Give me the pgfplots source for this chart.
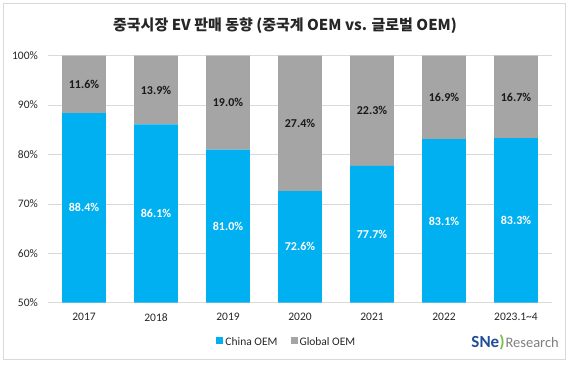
\documentclass[border=0pt]{standalone}
\usepackage{pgfplots}
\pgfplotsset{compat=1.18}
\usepackage{fontspec}
\setmainfont{Carlito}
\newfontfamily\cjk{Noto Sans CJK KR}
\definecolor{cblue}{HTML}{00B0F0}
\definecolor{cgray}{HTML}{A5A5A5}
\definecolor{gridc}{HTML}{D9D9D9}
\definecolor{snblue}{HTML}{1F4E9A}
\definecolor{sngreen}{HTML}{7AC143}
\definecolor{sngray}{HTML}{7F7F7F}
\begin{document}
\begin{tikzpicture}[x=1pt,y=1pt]
\path[use as bounding box] (0,0) rectangle (569,-364);
\draw[gridc, line width=0.8pt] (3,-3) rectangle (565.5,-359.5);
\node[font=\cjk\bfseries\fontsize{15}{18}\selectfont, text=black!85] at (285,-26) {중국시장 EV 판매 동향 (중국계 OEM vs. 글로벌 OEM)};
\begin{axis}[
  at={(48pt,-302.7pt)}, anchor=south west,
  scale only axis, width=504pt, height=247pt,
  ybar stacked, bar width=43.5pt,
  xmin=-0.5, xmax=6.5, ymin=50, ymax=100,
  xtick={0,...,6}, xticklabels={2017,2018,2019,2020,2021,2022,2023.1\textasciitilde4},
  ytick={50,60,...,100},
  yticklabel={\pgfmathprintnumber{\tick}\%},
  axis line style={draw=none}, major tick length=0pt,
  ymajorgrids, grid style={gridc, line width=0.8pt},
  tick label style={font=\fontsize{11.5}{13}\selectfont, inner sep=0pt, text=black!85},
  /pgf/number format/assume math mode=true,
  yticklabel style={xshift=-10pt},
  xticklabel style={yshift=-10.4pt},
  legend style={at={(axis description cs:0.474,-0.162)}, anchor=center, draw=none, fill=none,
    legend columns=-1, font=\fontsize{11.5}{13}\selectfont, text=black!85,
    /tikz/every even column/.append style={column sep=11pt}, inner sep=0pt},
  legend cell align=left,
]
\addplot[fill=cblue, draw=none, legend image code/.code={\fill[cblue] (0pt,-1pt) rectangle (7pt,6pt);}]
  coordinates {(0,88.4) (1,86.1) (2,81.0) (3,72.6) (4,77.7) (5,83.1) (6,83.3)};
\addlegendentry{China OEM}
\addplot[fill=cgray, draw=none, legend image code/.code={\fill[cgray] (0pt,-1pt) rectangle (7pt,6pt);}]
  coordinates {(0,11.6) (1,13.9) (2,19.0) (3,27.4) (4,22.3) (5,16.9) (6,16.7)};
\addlegendentry{Global OEM}
\end{axis}
\begin{axis}[
  at={(48pt,-302.7pt)}, anchor=south west,
  scale only axis, width=504pt, height=247pt,
  xmin=-0.5, xmax=6.5, ymin=50, ymax=100,
  hide axis, clip=false,
]
\addplot[draw=none, mark=none, nodes near coords, point meta=explicit symbolic,
  nodes near coords style={anchor=center, font=\bfseries\fontsize{12}{14}\selectfont, text=white}]
  coordinates {(0,69.2)[88.4\%] (1,68.05)[86.1\%] (2,65.5)[81.0\%] (3,61.3)[72.6\%] (4,63.85)[77.7\%] (5,66.55)[83.1\%] (6,66.65)[83.3\%]};
\addplot[draw=none, mark=none, nodes near coords, point meta=explicit symbolic,
  nodes near coords style={anchor=center, font=\bfseries\fontsize{12}{14}\selectfont, text=black!90}]
  coordinates {(0,94.2)[11.6\%] (1,93.05)[13.9\%] (2,90.5)[19.0\%] (3,86.3)[27.4\%] (4,88.85)[22.3\%] (5,91.55)[16.9\%] (6,91.65)[16.7\%]};
\end{axis}
\node[anchor=east, inner sep=0pt] at (559,-342) {{\fontsize{17}{18}\selectfont\bfseries\color{snblue}SNe}{\fontsize{17}{18}\selectfont\bfseries\color{sngreen})}\hspace{1pt}{\fontsize{14.5}{18}\selectfont\color{sngray}Research}};
\end{tikzpicture}
\end{document}
